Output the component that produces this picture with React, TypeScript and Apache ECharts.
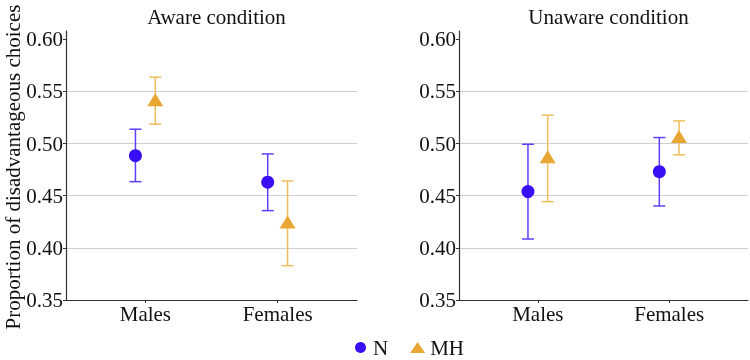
import React, { useEffect, useRef } from "react";
import * as echarts from "echarts";

const categories = ["Males", "Females"];
const panelTitles = ["Aware condition", "Unaware condition"];
const yTicks = [0.35, 0.4, 0.45, 0.5, 0.55, 0.6];

const awareN = [0.4884, 0.463];
const awareNLow = [0.4635, 0.4357];
const awareNHigh = [0.5138, 0.4901];
const awareMH = [0.542, 0.4247];
const awareMHLow = [0.5186, 0.3829];
const awareMHHigh = [0.5637, 0.4642];

const unawareN = [0.454, 0.4731];
const unawareNLow = [0.4085, 0.4402];
const unawareNHigh = [0.4994, 0.5058];
const unawareMH = [0.4875, 0.5067];
const unawareMHLow = [0.4443, 0.4892];
const unawareMHHigh = [0.5273, 0.5218];

const FONT = "Liberation Serif";
const BLUE = "#3a0ef6";
const BLUE_BAR = "#5c40ff";
const ORANGE = "#e8a733";
const ORANGE_BAR = "#efbd5c";
const DODGE = 0.075;

function App() {
  const ref = useRef<HTMLDivElement>(null);
  useEffect(() => {
    if (!ref.current) return;
    const chart = echarts.init(ref.current, null, { renderer: "svg" });

    const grids = [
      { left: 66, top: 31, width: 291, height: 269 },
      { left: 459, top: 31, width: 289, height: 269 },
    ];

    const xAxes = grids.map((_, i) => ({
      type: "value",
      gridIndex: i,
      min: 0.4,
      max: 2.6,
      splitLine: { show: false },
      axisLine: { show: true, lineStyle: { color: "#333", width: 1.2 } },
      axisTick: { show: true, length: 3, customValues: [1, 2], lineStyle: { color: "#333" } },
      axisLabel: {
        customValues: [1, 2],
        formatter: (v: number) => categories[Math.round(v) - 1] ?? "",
        fontFamily: FONT,
        fontSize: 21,
        color: "#111",
        margin: 3,
      },
    }));

    const yAxes = grids.map((_, i) => ({
      type: "value",
      gridIndex: i,
      min: 0.35,
      max: 0.608,
      interval: 0.05,
      axisLine: { show: true, lineStyle: { color: "#333", width: 1.2 } },
      axisTick: { show: true, length: 3, customValues: yTicks, lineStyle: { color: "#333" } },
      splitLine: {
        show: true,
        showMinLine: false,
        showMaxLine: false,
        lineStyle: { color: "#cfcfcf", width: 1 },
      },
      axisLabel: {
        customValues: yTicks,
        formatter: (v: number) => v.toFixed(2),
        fontFamily: FONT,
        fontSize: 21,
        color: "#111",
        margin: 3,
      },
    }));

    const panels = [
      { n: awareN, nLo: awareNLow, nHi: awareNHigh, mh: awareMH, mhLo: awareMHLow, mhHi: awareMHHigh },
      { n: unawareN, nLo: unawareNLow, nHi: unawareNHigh, mh: unawareMH, mhLo: unawareMHLow, mhHi: unawareMHHigh },
    ];

    const errRender = (color: string) => (params: any, api: any) => {
      const x = api.value(0);
      const lo = api.coord([x, api.value(2)]);
      const hi = api.coord([x, api.value(3)]);
      const hw = 6;
      const style = { stroke: color, lineWidth: 1.5 };
      return {
        type: "group",
        children: [
          { type: "line", shape: { x1: lo[0], y1: lo[1], x2: hi[0], y2: hi[1] }, style },
          { type: "line", shape: { x1: lo[0] - hw, y1: lo[1], x2: lo[0] + hw, y2: lo[1] }, style },
          { type: "line", shape: { x1: hi[0] - hw, y1: hi[1], x2: hi[0] + hw, y2: hi[1] }, style },
        ],
      };
    };

    const series: any[] = [];
    panels.forEach((p, i) => {
      const nData = categories.map((_, k) => [k + 1 - DODGE, p.n[k], p.nLo[k], p.nHi[k]]);
      const mhData = categories.map((_, k) => [k + 1 + DODGE, p.mh[k], p.mhLo[k], p.mhHi[k]]);
      series.push({
        type: "custom",
        name: "N-err" + i,
        xAxisIndex: i,
        yAxisIndex: i,
        renderItem: errRender(BLUE_BAR),
        data: nData,
        encode: { x: 0, y: [1, 2, 3] },
        z: 2,
      });
      series.push({
        type: "custom",
        name: "MH-err" + i,
        xAxisIndex: i,
        yAxisIndex: i,
        renderItem: errRender(ORANGE_BAR),
        data: mhData,
        encode: { x: 0, y: [1, 2, 3] },
        z: 2,
      });
      series.push({
        type: "scatter",
        name: "N",
        xAxisIndex: i,
        yAxisIndex: i,
        symbol: "circle",
        symbolSize: 13,
        itemStyle: { color: BLUE, opacity: 1 },
        data: nData.map((d) => [d[0], d[1]]),
        z: 3,
      });
      series.push({
        type: "scatter",
        name: "MH",
        xAxisIndex: i,
        yAxisIndex: i,
        symbol: "triangle",
        symbolSize: [16, 13],
        itemStyle: { color: ORANGE, opacity: 1 },
        data: mhData.map((d) => [d[0], d[1]]),
        z: 3,
      });
    });

    chart.setOption({
      animation: false,
      textStyle: { fontFamily: FONT },
      grid: grids,
      xAxis: xAxes,
      yAxis: yAxes,
      title: grids.map((g, i) => ({
        text: panelTitles[i],
        left: g.left + g.width / 2,
        top: 1,
        textAlign: "center",
        textStyle: { fontFamily: FONT, fontSize: 21, fontWeight: "normal", color: "#111" },
      })),
      legend: {
        data: [
          { name: "N", icon: "circle" },
          { name: "MH", icon: "triangle" },
        ],
        left: 355,
        top: 337,
        padding: 0,
        itemWidth: 15,
        itemHeight: 11,
        itemGap: 22,
        textStyle: { fontFamily: FONT, fontSize: 21, lineHeight: 18, color: "#111" },
      },
      graphic: [
        {
          type: "text",
          x: 13,
          y: 167,
          rotation: Math.PI / 2,
          style: {
            text: "Proportion of disadvantageous choices",
            fontFamily: FONT,
            fontSize: 21,
            fill: "#111",
            align: "center",
            verticalAlign: "middle",
          },
        },
      ],
      series,
    });

    return () => chart.dispose();
  }, []);

  return (
    <div
      ref={ref}
      style={{ position: "fixed", left: 0, top: 0, width: 750, height: 360 }}
    />
  );
}

export default App;
